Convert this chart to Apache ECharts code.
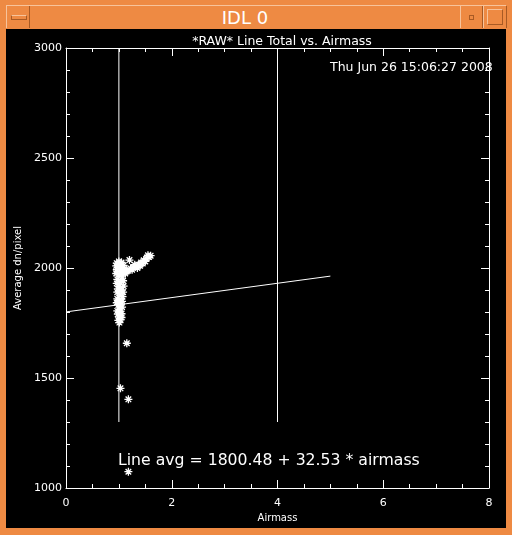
<!DOCTYPE html>
<html>
<head>
<meta charset="utf-8">
<script src="https://cdn.jsdelivr.net/npm/echarts@6/dist/echarts.min.js"></script>
<style>
  html, body { margin: 0; padding: 0; }
  body { width: 512px; height: 535px; background: #ee8a43; position: relative; overflow: hidden; font-family: "DejaVu Sans", sans-serif; }
  .bar { position: absolute; left: 6px; top: 5px; width: 500px; height: 23px; border-top: 1px solid #f7c39b; }
  .title { position: absolute; left: 0; top: 6px; width: 490px; text-align: center; color: #fff; font-size: 18px; line-height: 24px; }
  .btn { position: absolute; top: 6px; height: 22px; border-left: 1px solid #f7c39b; border-right: 1px solid #a85a24; }
  .plotbg { position: absolute; left: 6px; top: 29px; width: 500px; height: 499px; background: #000; }
  #chart { position: absolute; left: 0; top: 0; width: 512px; height: 535px; }
</style>
</head>
<body>
<div class="bar"></div>
<div class="btn" style="left:6px;width:22px;"><div style="position:absolute;left:4px;top:9px;width:14px;height:3px;border:1px solid #a85a24;border-top-color:#f7c39b;"></div></div>
<div class="btn" style="left:460px;width:21px;"><div style="position:absolute;left:8px;top:9px;width:3px;height:3px;border:1px solid #a85a24;"></div></div>
<div class="btn" style="left:483px;width:22px;"><div style="position:absolute;left:3px;top:3px;width:14px;height:14px;border:1px solid #a85a24;border-top-color:#f7c39b;border-left-color:#f7c39b;"></div></div>
<div class="title">IDL 0</div>
<div class="plotbg"></div>
<div id="chart"></div>
<script>
// measured points: [airmass, average dn/pixel]
const points = [
  [1.00, 2030], [0.96, 2022], [1.05, 2025], [1.09, 2012], [1.02, 2002],
  [0.96, 1992], [1.04, 1985], [1.10, 1995], [1.00, 1970], [1.06, 1960],
  [0.97, 1948], [1.03, 1932], [1.08, 1942], [1.01, 1915], [1.05, 1900],
  [0.97, 1890], [1.02, 1877], [1.07, 1870], [1.00, 1855], [1.04, 1845],
  [0.99, 1832], [1.03, 1818], [1.01, 1802], [1.05, 1792], [1.00, 1778],
  [1.03, 1765], [1.01, 1752], [0.99, 1762], [1.06, 1822], [0.97, 1860],
  [0.95, 2010], [0.99, 2015], [1.07, 2000], [0.95, 1975], [1.08, 1975],
  [0.96, 1930], [1.09, 1918], [0.98, 1905], [1.08, 1890], [0.96, 1842],
  [1.06, 1848], [0.97, 1805], [1.05, 1775], [0.98, 1790],
  [1.12, 1975], [1.17, 1988], [1.22, 1998], [1.27, 2003], [1.32, 2008],
  [1.37, 2015], [1.42, 2025], [1.47, 2035], [1.52, 2042], [1.57, 2050],
  [1.60, 2056], [1.20, 2036], [1.25, 1992], [1.35, 2000], [1.45, 2020],
  [1.15, 1985], [1.30, 2015], [1.40, 2010], [1.50, 2030], [1.55, 2058],
  [1.15, 1658], [1.03, 1453], [1.18, 1403], [1.18, 1074]
];
// fit: avg = 1800.48 + 32.53 * airmass, drawn from airmass 0 to 5
const fitLine = [[0, 1800.48], [5, 1963.13]];
// vertical marker lines at airmass 1 and 4
const markerX = [1, 4];
const markerY = [1300, 3000];

const xTicks = { min: 0, max: 8, interval: 2 };
const yTicks = { min: 1000, max: 3000, interval: 500 };

const fg = '#ffffff';
const font = '"DejaVu Sans", sans-serif';
const star = 'path://M0,5L10,5M5,0L5,10M1.5,1.5L8.5,8.5M8.5,1.5L1.5,8.5';

const chart = echarts.init(document.getElementById('chart'));

function boxAxis(kind, pos, t, show, name) {
  return {
    type: 'value',
    position: pos,
    min: t.min, max: t.max, interval: t.interval,
    name: show ? name : '',
    nameLocation: 'middle',
    nameGap: kind === 'x' ? 16 : 38,
    nameTextStyle: { color: fg, fontSize: 10, fontFamily: font },
    axisLine: { show: true, onZero: false, lineStyle: { color: fg, width: 1 } },
    axisTick: { show: true, inside: true, length: 8, lineStyle: { color: fg } },
    minorTick: { show: true, splitNumber: kind === 'x' ? 4 : 5, length: 4, lineStyle: { color: fg } },
    axisLabel: { show: show, color: fg, fontSize: 11, fontFamily: font, margin: kind === 'x' ? 10 : 4, formatter: v => String(v) },
    splitLine: { show: false },
    minorSplitLine: { show: false }
  };
}

const markerSeries = markerX.map(x => ({
  type: 'line',
  data: markerY.map(y => [x, y]),
  symbol: 'none',
  lineStyle: { color: fg, width: 1 },
  silent: true
}));

chart.setOption({
  animation: false,
  backgroundColor: 'transparent',
  grid: { left: 66, right: 23, top: 48, bottom: 47 },
  title: {
    text: '*RAW* Line Total vs. Airmass',
    left: 277, top: 30, textAlign: 'center',
    textStyle: { color: fg, fontSize: 12.5, fontWeight: 'normal', fontFamily: font }
  },
  xAxis: [
    boxAxis('x', 'bottom', xTicks, true, 'Airmass'),
    boxAxis('x', 'top', xTicks, false, '')
  ],
  yAxis: [
    boxAxis('y', 'left', yTicks, true, 'Average dn/pixel'),
    boxAxis('y', 'right', yTicks, false, '')
  ],
  graphic: [
    { type: 'text', left: 330, top: 61, style: { text: 'Thu Jun 26 15:06:27 2008', fill: fg, font: '12.5px ' + font } },
    { type: 'text', left: 118, top: 453, style: { text: 'Line avg = 1800.48 + 32.53 * airmass', fill: fg, font: '15.7px ' + font } }
  ],
  series: [
    ...markerSeries,
    {
      type: 'line',
      data: fitLine,
      symbol: 'none',
      lineStyle: { color: fg, width: 1 },
      silent: true
    },
    {
      type: 'scatter',
      data: points,
      symbol: star,
      symbolSize: 8,
      itemStyle: { color: 'none', borderColor: fg, borderWidth: 1.3, opacity: 1 }
    }
  ]
});
</script>
</body>
</html>
